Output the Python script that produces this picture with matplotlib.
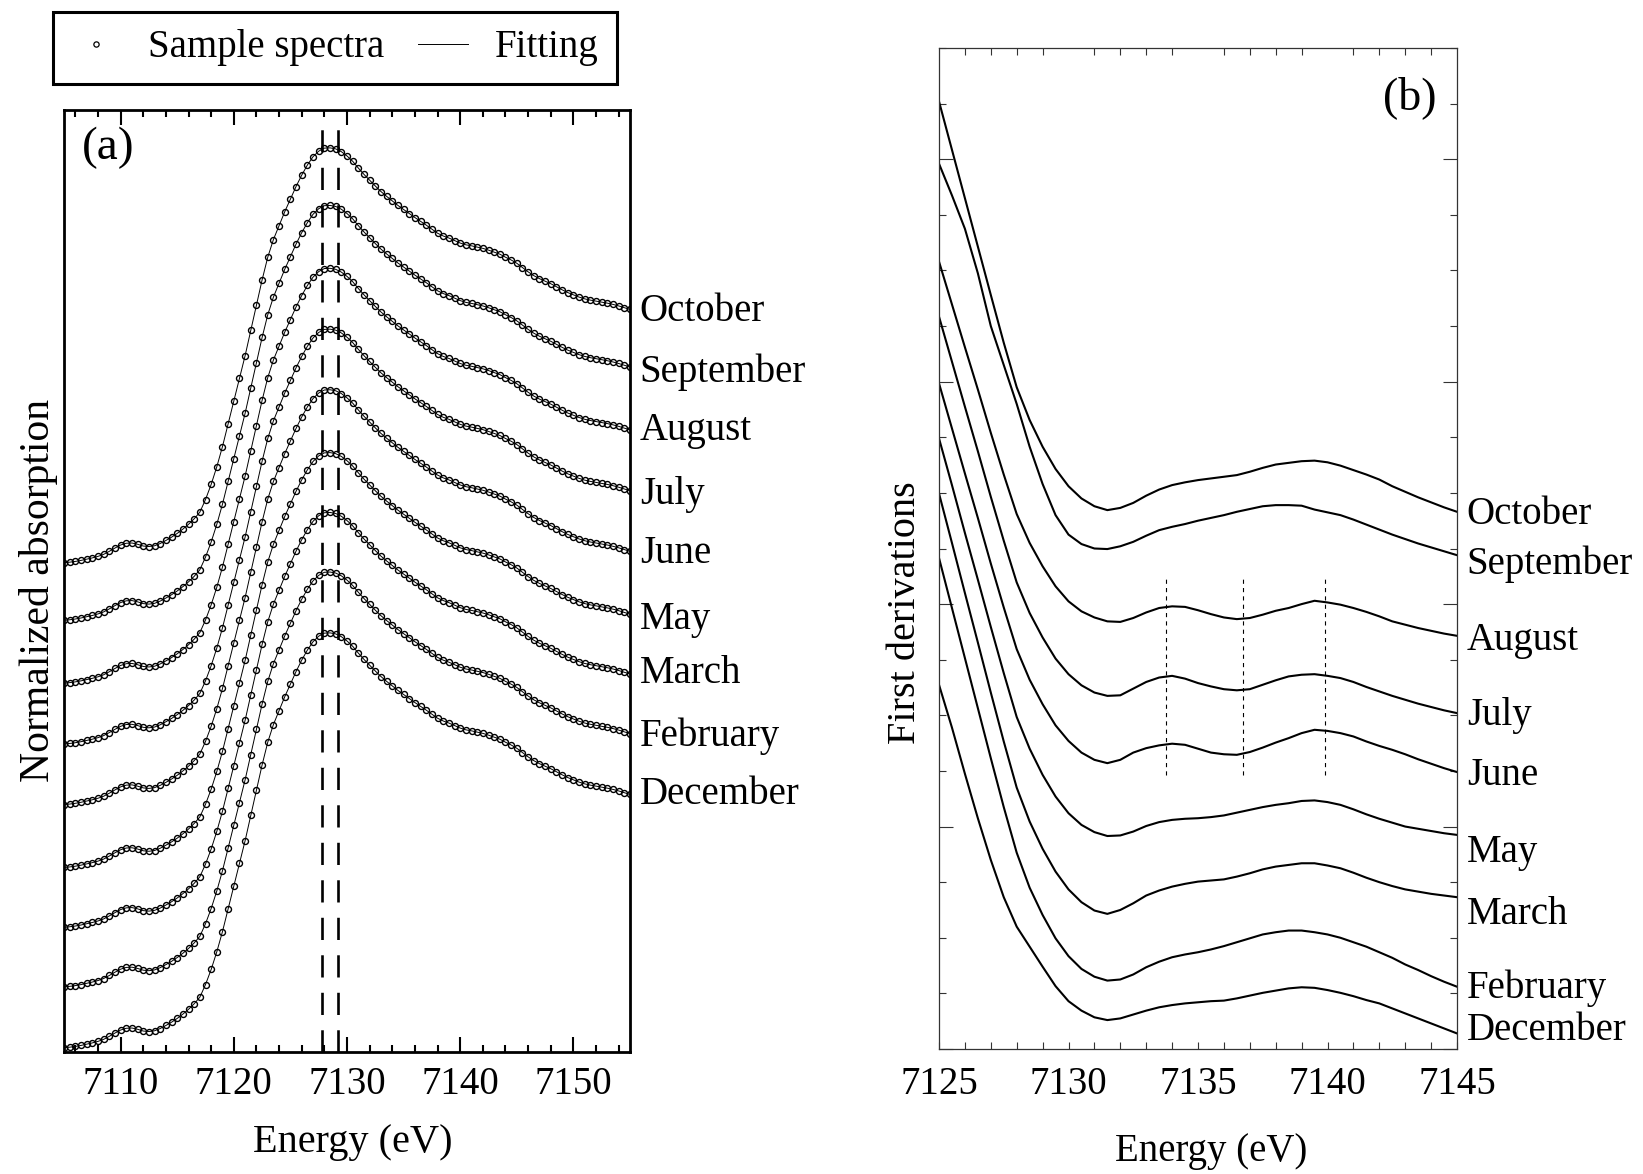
import numpy as np
import matplotlib
matplotlib.use("Agg")
import matplotlib.pyplot as plt
from matplotlib.lines import Line2D
from matplotlib.ticker import MultipleLocator

plt.rcParams['font.family'] = ['Liberation Serif', 'DejaVu Serif']
plt.rcParams['lines.scale_dashes'] = False

W, H = 1643, 1174

months = ['October', 'September', 'August', 'July', 'June',
          'May', 'March', 'February', 'December']

# ---- panel (a): normalized XANES, one measured profile, stacked per month
energy_a = np.arange(7105.0, 7155.25, 0.5)
xanes = [0.000, 0.002, 0.005, 0.009, 0.014, 0.019, 0.025, 0.033, 0.045, 0.058,
         0.070, 0.077, 0.078, 0.073, 0.066, 0.064, 0.067, 0.076, 0.088, 0.101,
         0.116, 0.133, 0.152, 0.174, 0.200, 0.250, 0.310, 0.380, 0.460, 0.550,
         0.640, 0.730, 0.820, 0.920, 1.020, 1.120, 1.210, 1.280, 1.335, 1.390,
         1.440, 1.490, 1.535, 1.575, 1.608, 1.630, 1.642, 1.643, 1.639, 1.628,
         1.611, 1.590, 1.563, 1.538, 1.515, 1.492, 1.470, 1.451, 1.433, 1.415,
         1.399, 1.383, 1.367, 1.352, 1.337, 1.321, 1.305, 1.294, 1.286, 1.276,
         1.266, 1.259, 1.255, 1.250, 1.245, 1.238, 1.230, 1.222, 1.210, 1.199,
         1.186, 1.169, 1.152, 1.137, 1.125, 1.115, 1.105, 1.093, 1.081, 1.070,
         1.061, 1.052, 1.045, 1.040, 1.036, 1.032, 1.028, 1.023, 1.017, 1.010,
         1.003]
offsets_a = [1.921, 1.693, 1.444, 1.203, 0.963, 0.714, 0.477, 0.241, 0.0]
label_y_a = [2.917, 2.676, 2.444, 2.191, 1.959, 1.697, 1.481, 1.232, 1.004]
edge_lines = [7127.8, 7129.2]

# ---- panel (b): first derivatives
energy_b = np.arange(7125.0, 7145.25, 0.5)
deriv_oct = [17.04, 16.17, 15.30, 14.43, 13.56, 12.70, 11.90, 11.31, 10.83, 10.43,
             10.12, 9.90, 9.76, 9.69, 9.73, 9.82, 9.95, 10.06, 10.14, 10.19,
             10.23, 10.26, 10.29, 10.32, 10.38, 10.45, 10.51, 10.54, 10.57, 10.58,
             10.55, 10.49, 10.41, 10.33, 10.24, 10.12, 10.02, 9.92, 9.83, 9.74,
             9.66]
deriv_sep = [15.92, 15.35, 14.75, 13.95, 13.00, 12.30, 11.60, 10.83, 10.16, 9.60,
             9.25, 9.08, 9.00, 8.99, 9.04, 9.12, 9.23, 9.33, 9.39, 9.44,
             9.50, 9.55, 9.60, 9.66, 9.71, 9.76, 9.78, 9.78, 9.77, 9.70,
             9.65, 9.60, 9.52, 9.43, 9.34, 9.25, 9.17, 9.09, 9.02, 8.95,
             8.88]
deriv_aug = [14.16, 13.39, 12.62, 11.86, 11.08, 10.33, 9.62, 9.10, 8.68, 8.32,
             8.05, 7.87, 7.76, 7.69, 7.68, 7.75, 7.85, 7.93, 7.96, 7.95,
             7.89, 7.82, 7.76, 7.73, 7.75, 7.81, 7.88, 7.93, 8.00, 8.06,
             8.03, 7.99, 7.93, 7.86, 7.78, 7.69, 7.63, 7.57, 7.52, 7.47,
             7.43]
deriv_jul = [13.17, 12.36, 11.55, 10.75, 9.93, 9.14, 8.39, 7.84, 7.40, 7.02,
             6.74, 6.54, 6.41, 6.35, 6.36, 6.48, 6.60, 6.68, 6.71, 6.66,
             6.58, 6.52, 6.47, 6.45, 6.47, 6.55, 6.63, 6.70, 6.73, 6.74,
             6.71, 6.67, 6.60, 6.51, 6.43, 6.35, 6.28, 6.21, 6.15, 6.09,
             6.04]
deriv_jun = [11.97, 11.16, 10.35, 9.55, 8.73, 7.94, 7.19, 6.64, 6.20, 5.82,
             5.54, 5.33, 5.20, 5.14, 5.20, 5.33, 5.41, 5.46, 5.49, 5.47,
             5.40, 5.33, 5.30, 5.29, 5.34, 5.42, 5.51, 5.59, 5.68, 5.74,
             5.72, 5.68, 5.62, 5.53, 5.45, 5.38, 5.30, 5.21, 5.13, 5.05,
             4.98]
deriv_may = [10.98, 10.14, 9.28, 8.44, 7.59, 6.76, 5.97, 5.40, 4.93, 4.54,
             4.24, 4.03, 3.90, 3.83, 3.84, 3.91, 4.01, 4.08, 4.12, 4.14,
             4.15, 4.17, 4.20, 4.25, 4.30, 4.35, 4.39, 4.42, 4.46, 4.47,
             4.44, 4.39, 4.31, 4.22, 4.14, 4.07, 4.00, 3.96, 3.92, 3.88,
             3.85]
deriv_mar = [9.99, 9.10, 8.20, 7.31, 6.41, 5.53, 4.70, 4.09, 3.60, 3.19,
             2.87, 2.64, 2.49, 2.43, 2.50, 2.62, 2.76, 2.85, 2.92, 2.97,
             3.01, 3.03, 3.05, 3.10, 3.16, 3.23, 3.28, 3.31, 3.34, 3.34,
             3.30, 3.25, 3.17, 3.08, 3.00, 2.93, 2.87, 2.83, 2.79, 2.76,
             2.73]
deriv_feb = [8.83, 7.93, 7.03, 6.13, 5.23, 4.35, 3.53, 2.90, 2.41, 1.99,
             1.67, 1.44, 1.30, 1.23, 1.25, 1.34, 1.47, 1.57, 1.65, 1.70,
             1.74, 1.79, 1.85, 1.92, 1.99, 2.06, 2.10, 2.13, 2.13, 2.10,
             2.06, 2.00, 1.92, 1.84, 1.74, 1.64, 1.52, 1.42, 1.31, 1.21,
             1.12]
deriv_dec = [6.55, 5.78, 4.95, 4.15, 3.40, 2.73, 2.20, 1.84, 1.48, 1.13,
             0.86, 0.69, 0.57, 0.52, 0.55, 0.62, 0.69, 0.75, 0.79, 0.82,
             0.84, 0.86, 0.87, 0.91, 0.96, 1.01, 1.05, 1.09, 1.11, 1.10,
             1.06, 1.01, 0.95, 0.88, 0.82, 0.73, 0.64, 0.55, 0.46, 0.37,
             0.28]
derivs = [deriv_oct, deriv_sep, deriv_aug, deriv_jul, deriv_jun,
          deriv_may, deriv_mar, deriv_feb, deriv_dec]
label_y_b = [9.62, 8.72, 7.34, 5.99, 4.91, 3.54, 2.41, 1.10, 0.34]
guide_lines_b = [7133.75, 7136.75, 7139.9]


fig = plt.figure(figsize=(W / 100, H / 100), dpi=100)

# ---------------- (a)
ax1 = fig.add_axes([64 / W, 1 - 1052 / H, 566 / W, 942 / H])
for off, name, ly in zip(offsets_a, months, label_y_a):
    y = np.array(xanes) + off
    ax1.plot(energy_a, y, color='k', lw=0.7)
    ax1.plot(energy_a, y, ls='none', marker='o', ms=4.3, mfc='none',
             mec='k', mew=1.0)
    ax1.annotate(name, (7155, ly), xytext=(7, 0), textcoords='offset points',
                 fontsize=28, ha='left', va='center', annotation_clip=False)

for e in edge_lines:
    ax1.axvline(e, ymin=0, ymax=0.982, color='k', lw=1.9, dashes=(16, 11))

ax1.set_xlim(7105, 7155)
ax1.set_ylim(-0.017, 3.714)
ax1.xaxis.set_major_locator(MultipleLocator(10))
ax1.xaxis.set_minor_locator(MultipleLocator(2))
ax1.set_yticks([])
ax1.tick_params(which='both', direction='in', top=True, bottom=True,
                left=False, right=False, width=1.5, labelsize=28, pad=10)
ax1.tick_params(which='major', length=11)
ax1.tick_params(which='minor', length=5)
for s in ax1.spines.values():
    s.set_linewidth(2)
ax1.set_xlabel('Energy (eV)', fontsize=29)
ax1.xaxis.set_label_coords(0.51, -0.076)
ax1.set_ylabel('Normalized absorption', fontsize=30)
ax1.yaxis.set_label_coords(-0.010, 0.49)
ax1.text(0.032, 0.982, '(a)', transform=ax1.transAxes, fontsize=34,
         ha='left', va='top')

h_pts = Line2D([], [], ls='none', marker='o', ms=3.8, mfc='none', mec='k', mew=0.9)
h_fit = Line2D([], [], color='k', lw=0.7)
leg = fig.legend([h_pts, h_fit], ['Sample spectra', 'Fitting'], ncol=2,
                 loc='upper left', bbox_to_anchor=(53 / W, 1 - 12 / H),
                 frameon=True, fancybox=False, edgecolor='k', framealpha=1,
                 fontsize=28, handlelength=1.3, handletextpad=0.7,
                 columnspacing=0.85, borderpad=0.45, borderaxespad=0)
leg.get_frame().set_linewidth(2.2)

# ---------------- (b)
ax2 = fig.add_axes([939 / W, 1 - 1049 / H, 518 / W, 1001 / H])
for d, name, ly in zip(derivs, months, label_y_b):
    ax2.plot(energy_b, d, color='k', lw=1.5)
    ax2.annotate(name, (7145, ly), xytext=(7, 0), textcoords='offset points',
                 fontsize=28, ha='left', va='center', annotation_clip=False)
for e in guide_lines_b:
    ax2.plot([e, e], [4.93, 8.47], color='k', lw=0.8, dashes=(3, 3))

ax2.set_xlim(7125, 7145)
ax2.set_ylim(0, 18)
ax2.xaxis.set_major_locator(MultipleLocator(5))
ax2.xaxis.set_minor_locator(MultipleLocator(1))
ax2.yaxis.set_major_locator(MultipleLocator(4))
ax2.yaxis.set_minor_locator(MultipleLocator(1))
ax2.tick_params(which='both', direction='in', left=True, right=True,
                bottom=True, labelleft=False, width=0.8, color='#333333')
ax2.tick_params(which='major', top=False, length=10, labelsize=28, pad=12)
ax2.tick_params(which='minor', top=True, length=5)
ax2.tick_params(axis='x', which='major', length=5)
for s in ax2.spines.values():
    s.set_linewidth(0.9)
    s.set_color('#333333')
ax2.set_xlabel('Energy (eV)', fontsize=28)
ax2.xaxis.set_label_coords(0.525, -0.084)
ax2.set_ylabel('First derivations', fontsize=29)
ax2.yaxis.set_label_coords(-0.028, 0.436)
ax2.text(0.960, 0.972, '(b)', transform=ax2.transAxes, fontsize=33,
         ha='right', va='top')

fig.savefig('out.png', dpi=100)
